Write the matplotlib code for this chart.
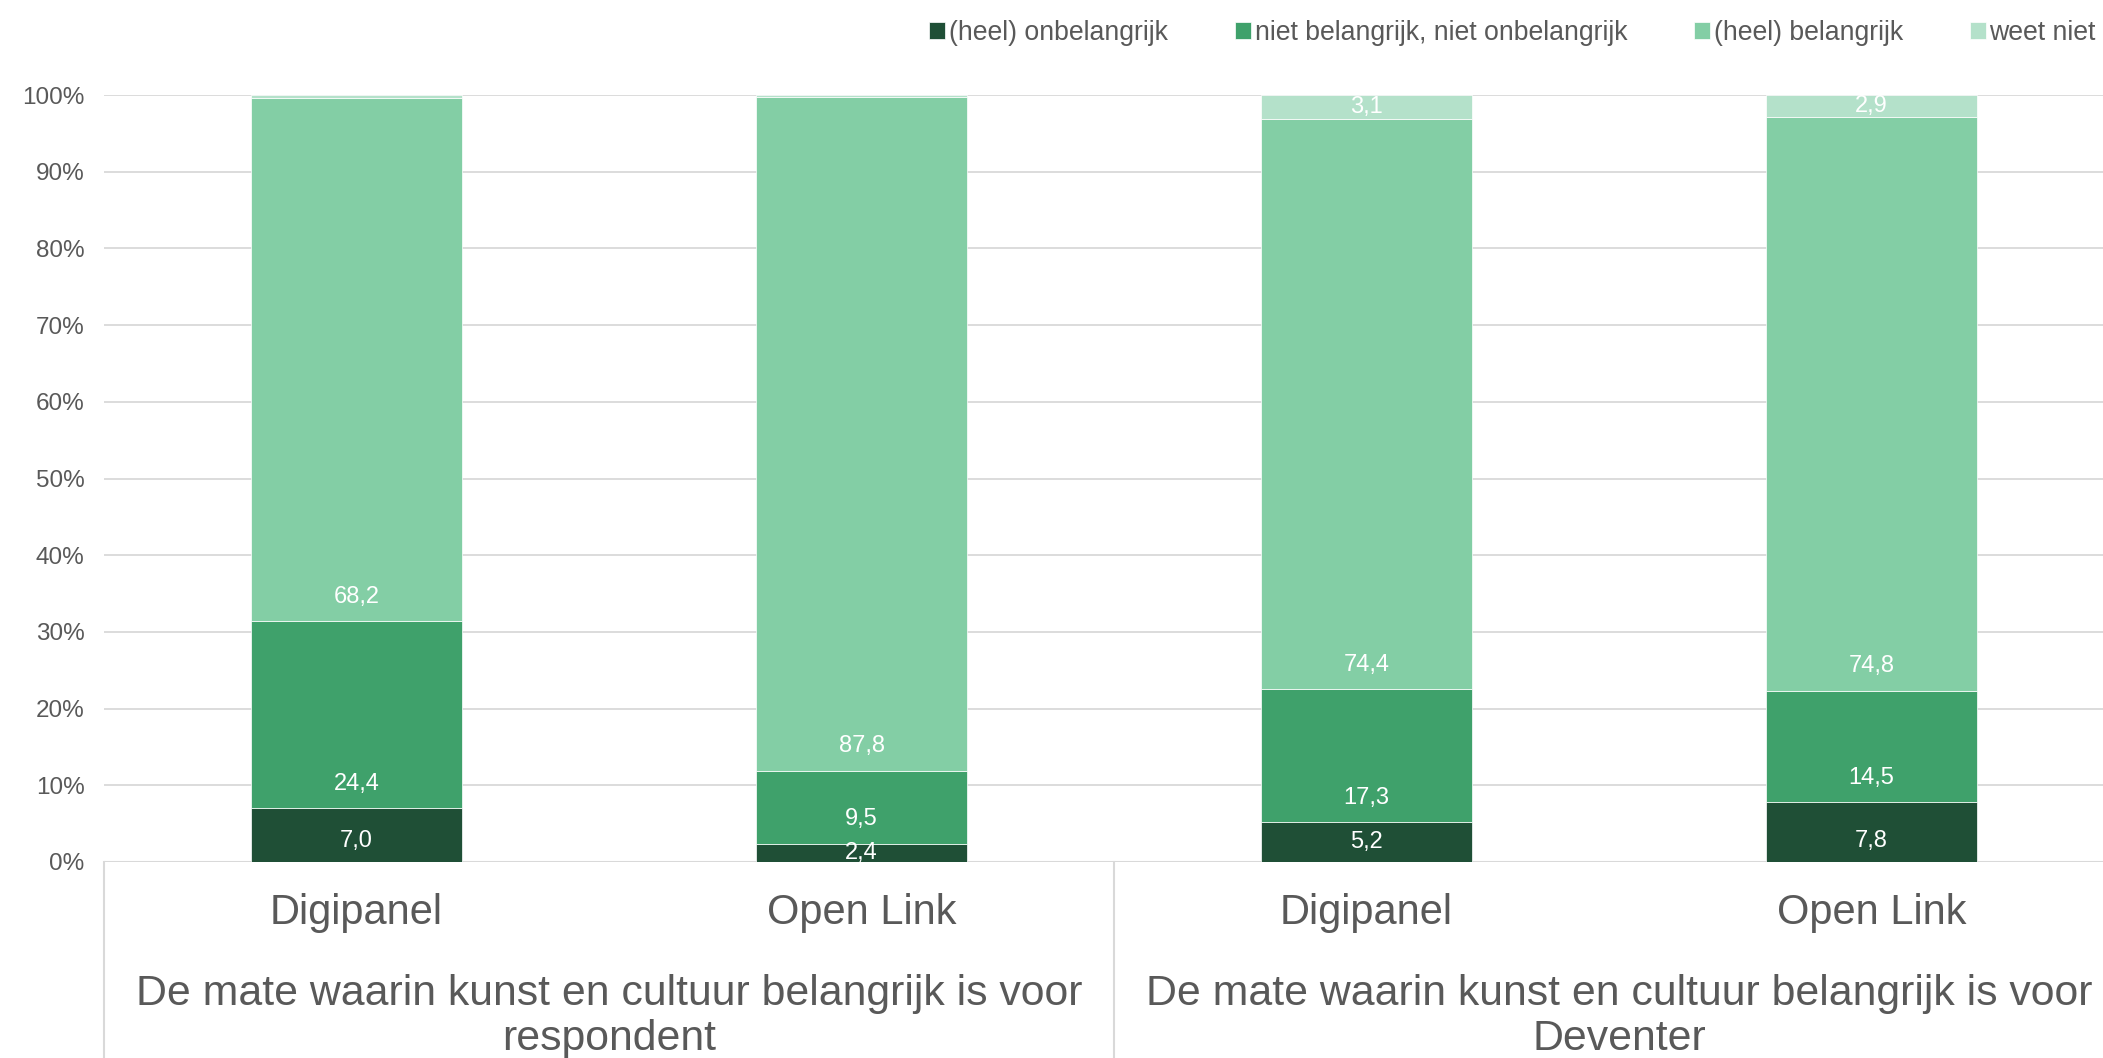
import numpy as np
import matplotlib.pyplot as plt
from matplotlib.lines import Line2D

plt.rcParams["font.family"] = ["Liberation Sans", "DejaVu Sans"]

# data
groups = ["De mate waarin kunst en cultuur belangrijk is voor\nrespondent",
          "De mate waarin kunst en cultuur belangrijk is voor\nDeventer"]
bars = ["Digipanel", "Open Link", "Digipanel", "Open Link"]
series = ["(heel) onbelangrijk", "niet belangrijk, niet onbelangrijk", "(heel) belangrijk", "weet niet"]
onbelangrijk = [7.0, 2.4, 5.2, 7.8]
neutraal = [24.4, 9.5, 17.3, 14.5]
belangrijk = [68.2, 87.8, 74.4, 74.8]
weet_niet = [0.4, 0.3, 3.1, 2.9]
yticks = [0, 10, 20, 30, 40, 50, 60, 70, 80, 90, 100]

colors = ["#1F4F36", "#3FA16B", "#83CEA5", "#B4E1CA"]
text_gray = "#595959"
grid_gray = "#D9D9D9"

fig = plt.figure(figsize=(21.03, 10.58), dpi=100)
ax = fig.add_axes([104 / 2103, 196 / 1058, 2020 / 2103, 767 / 1058])

x = np.arange(len(bars))
width = 0.416
bottom = np.zeros(len(bars))
values = [onbelangrijk, neutraal, belangrijk, weet_niet]
for i, (vals, col, name) in enumerate(zip(values, colors, series)):
    vals = np.array(vals)
    ax.bar(x, vals, width, bottom=bottom, color=col, label=name, zorder=2,
           edgecolor="white", linewidth=0.5)
    for xi, b, v in zip(x, bottom, vals):
        if v < 1:
            continue
        # labels sit near the base of the segment (Excel style)
        off = 2.8 if i == 0 else 3.2
        y = b + min(off, v / 2)
        ax.text(xi, y, f"{v:.1f}".replace(".", ","), ha="center", va="center",
                color="white", fontsize=17, zorder=3)
    bottom += vals

ax.set_xlim(-0.5, 3.5)
ax.set_ylim(0, 100)
ax.set_yticks(yticks)
ax.set_yticklabels([f"{t}%" for t in yticks], fontsize=17.5, color=text_gray)
ax.tick_params(axis="y", length=0, pad=14)
ax.set_xticks([])
ax.grid(axis="y", color=grid_gray, linewidth=1.3, zorder=0)
for s in ax.spines.values():
    s.set_visible(False)
ax.axhline(0, color=grid_gray, linewidth=1.5, zorder=1)

# multi-level category axis
for xi, name in zip(x, bars):
    ax.text(xi, -0.0665, name, transform=ax.get_xaxis_transform(), ha="center",
            va="center", fontsize=30, color=text_gray)
for gi, g in enumerate(groups):
    ax.text(gi * 2 + 0.5, -0.202, g, transform=ax.get_xaxis_transform(), ha="center",
            va="center", fontsize=30.8, color=text_gray, linespacing=1.16)
for sx in [-0.5, 1.5, 3.5]:
    ax.add_line(Line2D([sx, sx], [0, -0.3], transform=ax.get_xaxis_transform(),
                       color=grid_gray, linewidth=1.5, clip_on=False))

fig.legend(loc="center left", bbox_to_anchor=(929 / 2103, 1 - 33 / 1058), ncol=4,
           frameon=False, fontsize=19.2, labelcolor=text_gray, handlelength=0.6,
           handleheight=0.6, handletextpad=0.15, columnspacing=2.5, borderpad=0,
           borderaxespad=0)

fig.savefig("out.png", dpi=100)
